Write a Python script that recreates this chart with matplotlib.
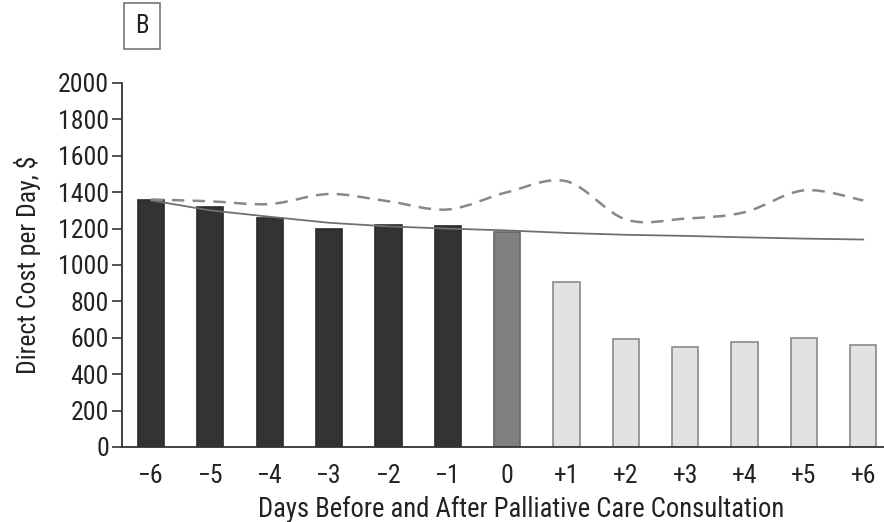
import numpy as np
import matplotlib.pyplot as plt
from matplotlib.path import Path
from matplotlib.patches import PathPatch

plt.rcParams['font.family'] = ['Roboto Condensed', 'DejaVu Sans']

days = ['\u22126', '\u22125', '\u22124', '\u22123', '\u22122', '\u22121', '0',
        '+1', '+2', '+3', '+4', '+5', '+6']
cost = [1357, 1319, 1258, 1198, 1220, 1214, 1181, 907, 593, 549, 577, 599, 560]
trend = [1355, 1300, 1265, 1232, 1212, 1200, 1190, 1176, 1166, 1160, 1152, 1145, 1140]
comparison = [1360, 1350, 1335, 1390, 1350, 1305, 1400, 1460, 1250, 1255, 1290, 1410, 1355]
yticks = list(range(0, 2001, 200))

bar_colors = ['#333333'] * 6 + ['#808080'] + ['#e2e2e2'] * 6
edge_colors = ['#2a2a2a'] * 6 + ['#666666'] + ['#8a8a8a'] * 6

fig = plt.figure(figsize=(8.84, 5.22), dpi=100)
ax = fig.add_axes([122 / 884, 75 / 522, 762 / 884, 364 / 522])

x = np.arange(len(days))
ax.bar(x, cost, width=0.44, color=bar_colors, edgecolor=edge_colors, linewidth=1.2, zorder=2)
ax.plot(x, trend, color='#707070', linewidth=1.3, zorder=3)


def smooth_path(xs, ys):
    # Catmull-Rom style Bezier through the points
    pts = np.column_stack([xs, ys]).astype(float)
    verts = [pts[0]]
    codes = [Path.MOVETO]
    for i in range(len(pts) - 1):
        p0 = pts[i - 1] if i > 0 else pts[i]
        p1, p2 = pts[i], pts[i + 1]
        p3 = pts[i + 2] if i + 2 < len(pts) else pts[i + 1]
        c1 = p1 + (p2 - p0) / 6
        c2 = p2 - (p3 - p1) / 6
        verts += [c1, c2, p2]
        codes += [Path.CURVE4] * 3
    return Path(verts, codes)


ax.add_patch(PathPatch(smooth_path(x, comparison), facecolor='none', edgecolor='#888888',
                       linewidth=1.8, linestyle=(0, (5, 3.3)), zorder=3))

ax.set_xlim(-0.49, 12.35)
ax.set_ylim(0, 2000)
ax.set_yticks(yticks)
ax.set_yticklabels([str(v) for v in yticks], fontsize=18.5, color='#222222')
ax.set_xticks(x)
ax.set_xticklabels(days, fontsize=18.5, color='#222222')
ax.tick_params(axis='x', length=0, pad=12)
ax.tick_params(axis='y', length=7, width=1.2, color='#333333', pad=2.5)
for s in ['top', 'right']:
    ax.spines[s].set_visible(False)
for s in ['left', 'bottom']:
    ax.spines[s].set_color('#333333')
    ax.spines[s].set_linewidth(1.3)

ax.set_ylabel('Direct Cost per Day, $', fontsize=18.5, color='#222222', labelpad=12)
ax.set_xlabel('Days Before and After Palliative Care Consultation', fontsize=19.2,
              color='#222222', labelpad=4)
ax.xaxis.set_label_coords(0.524, -0.135)

fig.text(142 / 884, 1 - 26 / 522, 'B', fontsize=18, color='#222222', ha='center', va='center',
         bbox=dict(boxstyle='square,pad=0.45', facecolor='white', edgecolor='#777777', linewidth=1.2))

fig.savefig('out.png', dpi=100)
